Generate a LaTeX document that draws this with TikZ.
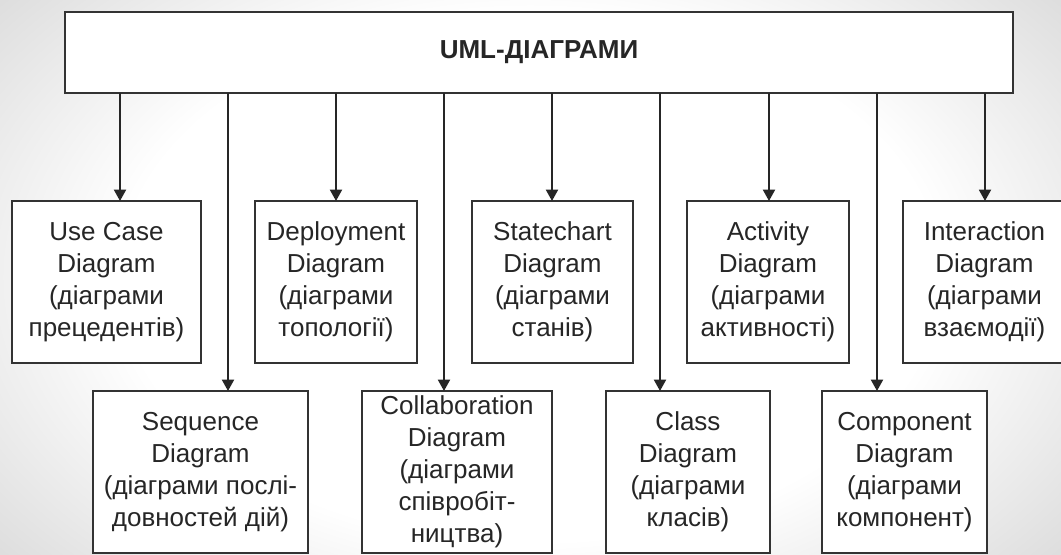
\documentclass[tikz,border=0pt]{standalone}
\usepackage{fontspec}
\setmainfont{Liberation Sans}
\usetikzlibrary{arrows.meta}
\pgfdeclareradialshading{bgshade}{\pgfpoint{0bp}{0bp}}{color(0bp)=(white); color(15bp)=(white); color(25bp)=(black!13); color(50bp)=(black!13)}
\tikzset{
  diag/.style={draw=black!80, line width=1.4pt, fill=white, inner sep=0pt, outer sep=0pt,
    align=center, text=black!85, font=\fontsize{19.5}{24}\selectfont},
  row/.style={minimum height=121.5pt},
  title/.style={diag, font=\fontsize{19.5}{24}\selectfont\bfseries, minimum height=60.75pt},
  arr/.style={draw=black!85, line width=1.4pt, -{Triangle[width=9pt,length=8.5pt]}}
}
\begin{document}
\begin{tikzpicture}[x=0.75pt, y=-0.75pt]
\useasboundingbox (0,0) rectangle (1061,555);
\begin{scope}
  \clip (0,0) rectangle (1061,555);
  \fill[black!13] (0,0) rectangle (1061,555);
  \shade[shading=bgshade] (530,277) ellipse (680 and 440);
\end{scope}
\begin{scope}
\clip (0,0) rectangle (1061,555);
\node[title, minimum width=711pt] (top) at (539,52.5) {UML-ДІАГРАМИ};

\node[diag, row, minimum width=141.75pt] (usecase) at (106.5,282) {Use Case\\Diagram\\(діаграми\\прецедентів)};
\node[diag, row, minimum width=121.5pt] (deploy) at (336,282) {Deployment\\Diagram\\(діаграми\\топології)};
\node[diag, row, minimum width=120.75pt] (state) at (552.5,282) {Statechart\\Diagram\\(діаграми\\станів)};
\node[diag, row, minimum width=121.5pt] (activity) at (768,282) {Activity\\Diagram\\(діаграми\\активності)};
\node[diag, row, minimum width=122.25pt] (interact) at (984.5,282) {Interaction\\Diagram\\(діаграми\\взаємодії)};

\node[diag, row, minimum width=161.25pt] (sequence) at (200.5,472) {Sequence\\Diagram\\(діаграми послі-\\довностей дій)};
\node[diag, row, minimum width=142.5pt] (collab) at (457,472) {Collaboration\\Diagram\\(діаграми\\співробіт-\\ництва)};
\node[diag, row, minimum width=123pt] (class) at (688,472) {Class\\Diagram\\(діаграми\\класів)};
\node[diag, row, minimum width=123.75pt] (component) at (904.5,472) {Component\\Diagram\\(діаграми\\компонент)};

\coordinate (c1) at (120,0);
\coordinate (c2) at (228,0);
\coordinate (c3) at (336,0);
\coordinate (c4) at (444,0);
\coordinate (c5) at (552,0);
\coordinate (c6) at (660,0);
\coordinate (c7) at (769,0);
\coordinate (c8) at (877,0);
\coordinate (c9) at (985,0);

\draw[arr] (top.south -| c1) -- (usecase.north -| c1);
\draw[arr] (top.south -| c2) -- (sequence.north -| c2);
\draw[arr] (top.south -| c3) -- (deploy.north -| c3);
\draw[arr] (top.south -| c4) -- (collab.north -| c4);
\draw[arr] (top.south -| c5) -- (state.north -| c5);
\draw[arr] (top.south -| c6) -- (class.north -| c6);
\draw[arr] (top.south -| c7) -- (activity.north -| c7);
\draw[arr] (top.south -| c8) -- (component.north -| c8);
\draw[arr] (top.south -| c9) -- (interact.north -| c9);
\end{scope}
\end{tikzpicture}
\end{document}
